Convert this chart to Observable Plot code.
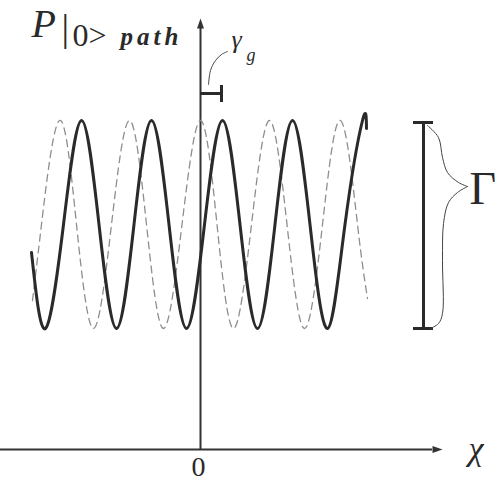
<!DOCTYPE html>
<html><head><meta charset="utf-8">
<script src="https://cdn.jsdelivr.net/npm/d3@7"></script>
<script src="https://cdn.jsdelivr.net/npm/@observablehq/plot@0.6"></script>
<style>body{margin:0;background:#fff}</style>
</head><body><div id="chart"></div>
<script>
// Solid curve: start, then trough / mid / peak points (χ relative to the vertical axis)
const solidX = [-169, -155, -137, -119, -101.5, -84, -66.5, -49, -31.5, -14, 4, 22, 39.5, 57, 74.5, 92, 109.5, 127, 144.5, 162, 166];
const solidY = [197, 121, 225, 329, 225, 121, 225, 329, 225, 121, 225, 329, 225, 121, 225, 329, 225, 121, 225, 329, 321];
// Dashed (reference) curve
const dashX = [-168, -159, -141, -124, -107, -89, -71, -54, -37, -18.5, 0, 16.5, 33, 51, 69, 86.5, 104, 122, 140, 157, 167];
const dashY = [149, 225, 329, 225, 121, 225, 329, 225, 121, 225, 329, 225, 121, 225, 329, 225, 121, 225, 329, 225, 151];
// γ_g shift bracket and its leader line
const gammaShift = [0, 21];
const gammaBracketY = 356;
const leaderX = [8, 10, 15, 21, 27];
const leaderY = [365, 379, 389, 395, 398];
// Γ amplitude bracket and its brace
const ampX = 223;
const ampRange = [121, 327];
const braceUpX = [227, 238, 242, 247, 258, 267];
const braceUpY = [324, 312, 292, 277, 267, 263];
const braceLoX = [267, 257, 248, 243, 242, 242, 238, 230];
const braceLoY = [263, 257, 247, 226, 189, 136, 126, 121];
// labels
const labels = {P: "P", bar: "|", ket: "0>", path: "path", gamma: "γ", g: "g", Gamma: "Γ", chi: "χ", zero: "0"};

const pts = (xs, ys) => xs.map((x, i) => ({x, y: ys[i]}));
const serif = "Liberation Serif, DejaVu Serif, serif";
const dark = "#2a2a2a";

const txt = (t, x, y, o) => Plot.text([t], {x: () => x, y: () => y, text: d => d, fontFamily: serif, lineAnchor: "bottom", textAnchor: "start", fill: dark, ...o});

const plot = Plot.plot({
  width: 498, height: 482, margin: 0,
  x: {domain: [-200, 298], range: [0, 498], axis: null},
  y: {domain: [-33, 449], range: [482, 0], axis: null},
  marks: [
    // axes
    Plot.ruleY([0], {x1: -200, x2: 232, stroke: "#333", strokeWidth: 2}),
    Plot.ruleX([0], {y1: 0, y2: 421, stroke: "#333", strokeWidth: 2}),
    Plot.vector([{x: 232, y: 0}], {x: "x", y: "y", length: 10, rotate: 90, shape: "spike", anchor: "start", r: 3.5, fill: "#333", stroke: "none"}),
    Plot.vector([{x: 0, y: 421}], {x: "x", y: "y", length: 10, rotate: 0, shape: "spike", anchor: "start", r: 3.5, fill: "#333", stroke: "none"}),
    // curves
    Plot.line(pts(dashX, dashY), {x: "x", y: "y", curve: "natural", stroke: "#8e8e8e", strokeWidth: 1.3, strokeDasharray: "7,5"}),
    Plot.line(pts(solidX, solidY), {x: "x", y: "y", curve: "natural", stroke: dark, strokeWidth: 3}),
    // γ_g bracket
    Plot.ruleY([gammaBracketY], {x1: gammaShift[0], x2: gammaShift[1], stroke: dark, strokeWidth: 3}),
    Plot.ruleX([gammaShift[1]], {y1: gammaBracketY - 9, y2: gammaBracketY + 8, stroke: dark, strokeWidth: 3}),
    Plot.line(pts(leaderX, leaderY), {x: "x", y: "y", curve: "catmull-rom", stroke: "#444", strokeWidth: 1}),
    // Γ bracket
    Plot.ruleX([ampX], {y1: ampRange[0], y2: ampRange[1], stroke: dark, strokeWidth: 3}),
    Plot.ruleY(ampRange, {x1: ampX - 10, x2: ampX + 10, stroke: dark, strokeWidth: 3}),
    Plot.line(pts(braceUpX, braceUpY), {x: "x", y: "y", curve: "catmull-rom", stroke: "#444", strokeWidth: 1}),
    Plot.line(pts(braceLoX, braceLoY), {x: "x", y: "y", curve: "catmull-rom", stroke: "#444", strokeWidth: 1}),
    // labels
    txt(labels.P, -169, 413, {fontSize: 40, fontStyle: "italic"}),
    txt(labels.bar, -139, 409, {fontSize: 38}),
    txt(labels.ket, -128, 404, {fontSize: 32}),
    txt(labels.path, -80, 405, {fontSize: 25, fontStyle: "italic", fontWeight: "bold"}),
    txt(labels.gamma, 31, 402, {fontSize: 26, fontStyle: "italic"}),
    txt(labels.g, 46, 389, {fontSize: 18, fontStyle: "italic"}),
    txt(labels.Gamma, 269, 246, {fontSize: 46}),
    txt(labels.chi, 268, -10, {fontSize: 34, fontStyle: "italic"}),
    txt(labels.zero, -2, -26, {fontSize: 28, textAnchor: "middle"})
  ]
});
d3.select(plot).selectAll("text").filter(function() { return this.textContent === "path"; }).attr("letter-spacing", "4px");
document.getElementById("chart").append(plot);
</script>
</body></html>
